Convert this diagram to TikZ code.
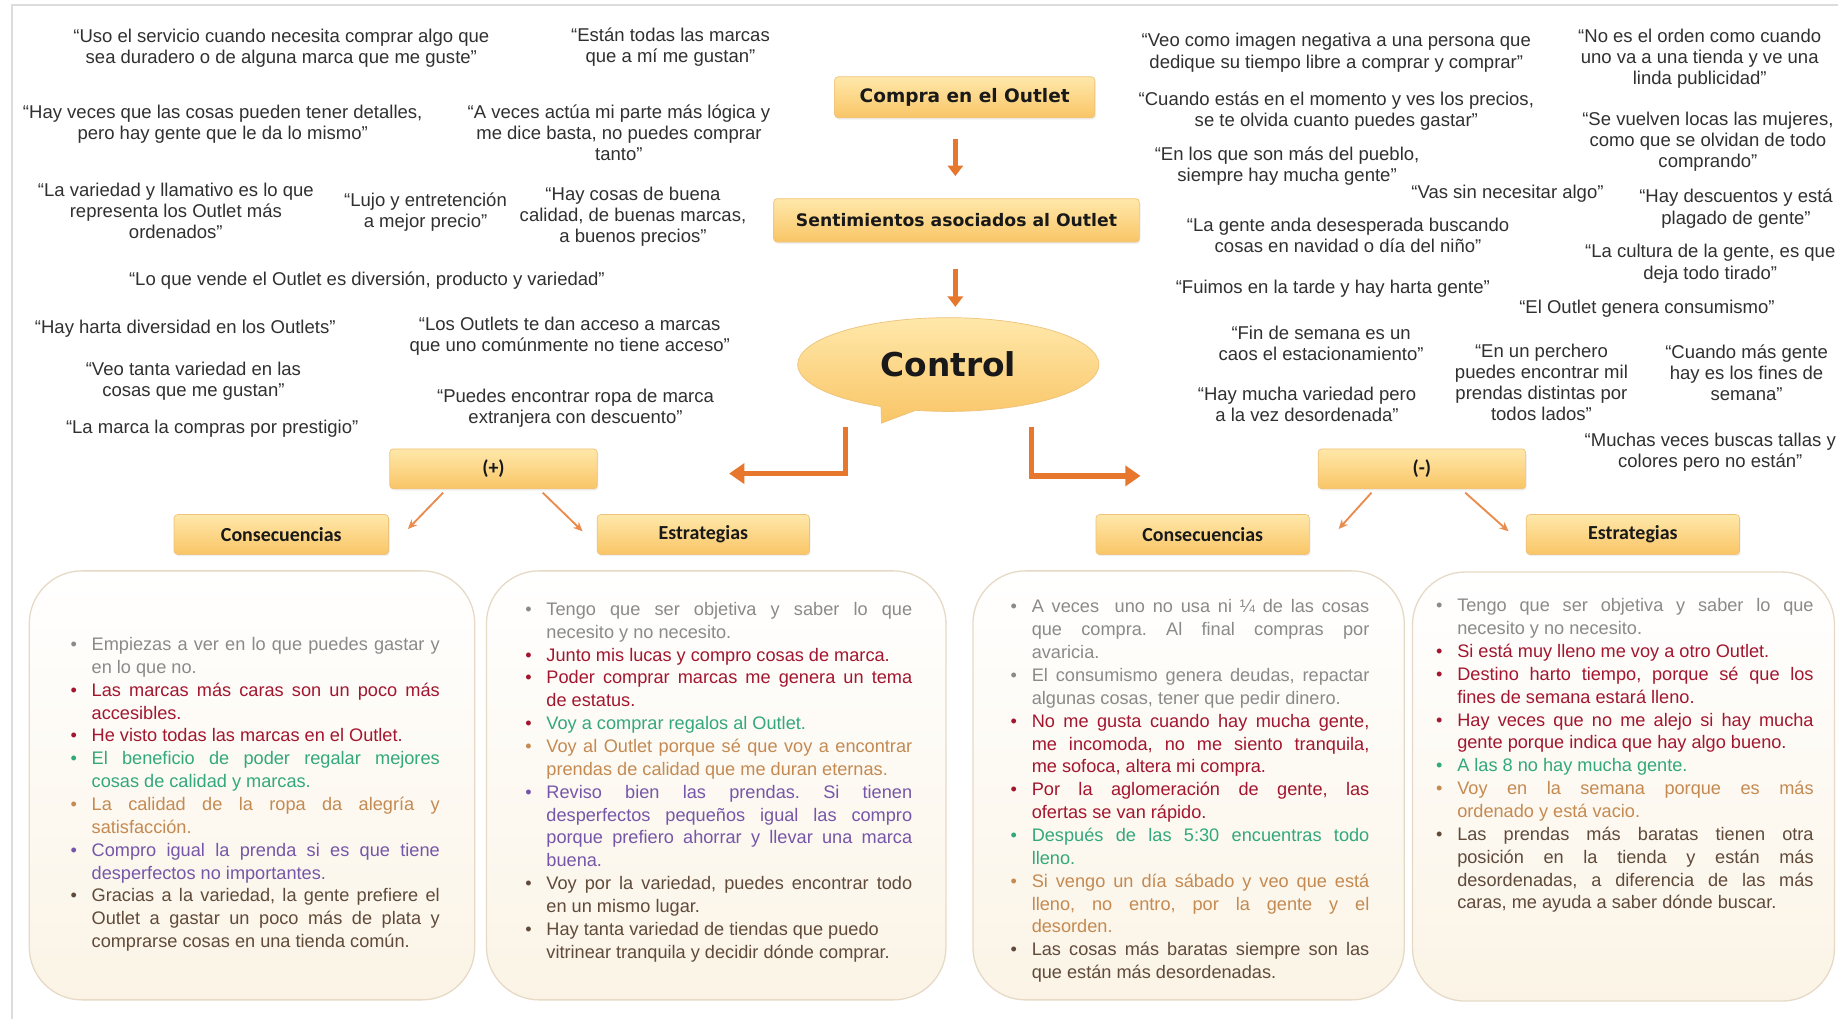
\documentclass[tikz,border=0pt]{standalone}
\usepackage{fontspec}
\setmainfont{Liberation Sans}
\newfontfamily\headfont{DejaVu Sans}
\newfontfamily\tagfont{Carlito}
\usetikzlibrary{arrows.meta,shapes.callouts,shadows}

\hyphenpenalty=10000
\exhyphenpenalty=10000
\tolerance=10000
\frenchspacing

\definecolor{quotetxt}{HTML}{303030}
\definecolor{arrowor}{HTML}{E8772E}
\definecolor{thinor}{HTML}{E98C4E}
\definecolor{boxtop}{HTML}{FFE8AA}
\definecolor{boxbot}{HTML}{F9C566}
\definecolor{boxedge}{HTML}{EFC27A}
\definecolor{paneledge}{HTML}{E6DAC6}
\definecolor{panelbot}{HTML}{FBF4E6}
\definecolor{framegray}{HTML}{DCDCDC}
\definecolor{tgray}{HTML}{8A8A8A}
\definecolor{tred}{HTML}{A3162F}
\definecolor{tgreen}{HTML}{33A87C}
\definecolor{torange}{HTML}{C48A52}
\definecolor{tpurple}{HTML}{7656A8}
\definecolor{tbrown}{HTML}{604A3A}

% one justified bullet paragraph: bullet colour, text colour, text
\newcommand\Bpara[3]{{\leftskip=18pt\rightskip=0pt\spaceskip=0pt\xspaceskip=0pt
  \parfillskip=0pt plus 1fil\frenchspacing\noindent
  \llap{\makebox[18pt][l]{\textcolor{#1}{\textbullet}}}\textcolor{#2}{#3}\par}}

\tikzset{
  quote/.style={align=center, text=quotetxt, inner sep=0pt,
    font=\fontsize{15.8}{18}\selectfont},
  headbox/.style={rounded corners=3pt, top color=boxtop, bottom color=boxbot,
    draw=boxedge, line width=0.6pt, text=black!90,
    drop shadow={shadow xshift=1pt, shadow yshift=-1.5pt, opacity=0.12}},
  tagbox/.style={headbox, minimum height=34pt,
    font=\tagfont\bfseries\fontsize{17}{20}\selectfont},
  panel/.style={draw=paneledge, line width=1.1pt, rounded corners=45pt,
    top color=white, middle color=white, bottom color=panelbot, minimum height=366pt},
  bullets/.style={anchor=north west, inner sep=0pt, align=justify,
    font=\fontsize{15.5}{19.5}\selectfont},
  bigarrow/.style={draw=arrowor, line width=4.5pt,
    -{Triangle[length=13pt,width=17pt]}},
  downarrow/.style={draw=arrowor, line width=4pt,
    -{Triangle[length=9pt,width=13pt]}},
  thinarrow/.style={draw=thinor, line width=1.6pt,
    -{Stealth[length=8pt,width=7pt]}},
}

\begin{document}
\begin{tikzpicture}[x=1pt,y=-1pt]
\useasboundingbox (0,0) rectangle (1568,869);
\fill[white] (0,0) rectangle (1568,869);
\draw[framegray, line width=2pt] (10,869) |- (1568,4);

% ---------- positive quotes ----------
\node[quote] (q1) at (240,41) {“Uso el servicio cuando necesita comprar algo que\\sea duradero o de alguna marca que me guste”};
\node[quote] (q2) at (572,40) {“Están todas las marcas\\que a mí me gustan”};
\node[quote] (q3) at (190,106) {“Hay veces que las cosas pueden tener detalles,\\pero hay gente que le da lo mismo”};
\node[quote] (q4) at (528,113) {“A veces actúa mi parte más lógica y\\me dice basta, no puedes comprar\\tanto”};
\node[quote] (q5) at (150,180) {“La variedad y llamativo es lo que\\representa los Outlet más\\ordenados”};
\node[quote] (q6) at (363,181) {“Lujo y entretención\\a mejor precio”};
\node[quote] (q7) at (540,185) {“Hay cosas de buena\\calidad, de buenas marcas,\\a buenos precios”};
\node[quote] (q8) at (313,239) {“Lo que vende el Outlet es diversión, producto y variedad”};
\node[quote] (q9) at (158,280) {“Hay harta diversidad en los Outlets”};
\node[quote] (q10) at (486,287) {“Los Outlets te dan acceso a marcas\\que uno comúnmente no tiene acceso”};
\node[quote] (q11) at (165,325) {“Veo tanta variedad en las\\cosas que me gustan”};
\node[quote] (q12) at (491,348) {“Puedes encontrar ropa de marca\\extranjera con descuento”};
\node[quote] (q13) at (181,366) {“La marca la compras por prestigio”};

% ---------- negative quotes ----------
\node[quote] (q14) at (1140,45) {“Veo como imagen negativa a una persona que\\dedique su tiempo libre a comprar y comprar”};
\node[quote] (q15) at (1450,50) {“No es el orden como cuando\\uno va a una tienda y ve una\\linda publicidad”};
\node[quote] (q16) at (1140,95) {“Cuando estás en el momento y ves los precios,\\se te olvida cuanto puedes gastar”};
\node[quote] (q17) at (1457,121) {“Se vuelven locas las mujeres,\\como que se olvidan de todo\\comprando”};
\node[quote] (q18) at (1098,142) {“En los que son más del pueblo,\\siempre hay mucha gente”};
\node[quote] (q19) at (1286,165) {“Vas sin necesitar algo”};
\node[quote] (q20) at (1481,178) {“Hay descuentos y está\\plagado de gente”};
\node[quote] (q21) at (1150,201) {“La gente anda desesperada buscando\\cosas en navidad o día del niño”};
\node[quote] (q22) at (1459,225) {“La cultura de la gente, es que\\deja todo tirado”};
\node[quote] (q23) at (1137,246) {“Fuimos en la tarde y hay harta gente”};
\node[quote] (q24) at (1405,263) {“El Outlet genera consumismo”};
\node[quote] (q25) at (1127,293) {“Fin de semana es un\\caos el estacionamiento”};
\node[quote] (q26) at (1315,326) {“En un perchero\\puedes encontrar mil\\prendas distintas por\\todos lados”};
\node[quote] (q27) at (1490,318) {“Cuando más gente\\hay es los fines de\\semana”};
\node[quote] (q28) at (1115,345) {“Hay mucha variedad pero\\a la vez desordenada”};
\node[quote] (q29) at (1459,386) {“Muchas veces buscas tallas y\\colores pero no están”};

% ---------- central flow ----------
\node[headbox, minimum width=222pt, minimum height=35pt,
  font=\headfont\bfseries\fontsize{15.8}{18}\selectfont] (cmp) at (823,83) {Compra en el Outlet};
\node[headbox, minimum width=312pt, minimum height=37pt,
  font=\headfont\bfseries\fontsize{14.7}{18}\selectfont] (sent) at (816,188) {Sentimientos asociados al Outlet};
\node[ellipse callout, callout absolute pointer={(752,361)}, callout pointer arc=14,
  minimum width=257pt, minimum height=80pt, top color=boxtop, bottom color=boxbot,
  draw=boxedge, line width=0.6pt, text=black!90,
  font=\headfont\bfseries\fontsize{28}{32}\selectfont] (ctl) at (809,311) {Control};

\draw[downarrow] ([xshift=-8pt,yshift=-18pt]cmp.south) -- ([xshift=-1pt,yshift=19pt]sent.north);
\draw[downarrow] ([xshift=-1pt,yshift=-23pt]sent.south) -- ([xshift=-1pt,yshift=-55pt]sent.south);

\coordinate (lstart) at (721,364);
\coordinate (lend) at (622,404);
\coordinate (rstart) at (880,364);
\coordinate (rend) at (973,406);
\draw[bigarrow] (lstart) |- (lend);
\draw[bigarrow] (rstart) |- (rend);

% ---------- branches ----------
\node[tagbox, minimum width=177pt] (plus) at (421,400) {(+)};
\node[tagbox, minimum width=177pt] (minus) at (1213,400) {(-)};
\node[tagbox, minimum width=183pt] (cons1) at (240,456) {Consecuencias};
\node[tagbox, minimum width=181pt] (estr1) at (600,456) {Estrategias};
\node[tagbox, minimum width=182pt] (cons2) at (1026,456) {Consecuencias};
\node[tagbox, minimum width=182pt] (estr2) at (1393,456) {Estrategias};

\draw[thinarrow] ([xshift=-43pt,yshift=-3pt]plus.south) -- ([xshift=-73pt,yshift=-34pt]plus.south);
\draw[thinarrow] ([xshift=42pt,yshift=-3pt]plus.south) -- ([xshift=76pt,yshift=-36pt]plus.south);
\draw[thinarrow] ([xshift=-43pt,yshift=-3pt]minus.south) -- ([xshift=-71pt,yshift=-34pt]minus.south);
\draw[thinarrow] ([xshift=37pt,yshift=-3pt]minus.south) -- ([xshift=74pt,yshift=-36pt]minus.south);

% ---------- panels ----------
\node[panel, minimum width=380pt] (p1) at (215,670) {};
\node[panel, minimum width=392pt] (p2) at (611,670) {};
\node[panel, minimum width=368pt] (p3) at (1014,670) {};
\node[panel, minimum width=360pt] (p4) at (1385,671) {};

\node[bullets, text width=315pt] (t1) at (60,543.5) {%
\Bpara{tgray}{tgray}{Empiezas a ver en lo que puedes gastar y \linebreak en lo que no.}
\Bpara{tred}{tred}{Las marcas más caras son un poco más \linebreak accesibles.}
\Bpara{tred}{tred}{He visto todas las marcas en el Outlet.}
\Bpara{tgreen}{tgreen}{El beneficio de poder regalar mejores \linebreak cosas de calidad y marcas.}
\Bpara{torange}{torange}{La calidad de la ropa da alegría y \linebreak satisfacción.}
\Bpara{tpurple}{tpurple}{Compro igual la prenda si es que tiene \linebreak desperfectos no importantes.}
\Bpara{tbrown}{tbrown}{Gracias a la variedad, la gente prefiere el \linebreak Outlet a gastar un poco más de plata y \linebreak comprarse cosas en una tienda común.}};

\node[bullets, text width=330pt] (t2) at (448,513.5) {%
\Bpara{tgray}{tgray}{Tengo que ser objetiva y saber lo que \linebreak necesito y no necesito.}
\Bpara{tred}{tred}{Junto mis lucas y compro cosas de marca.}
\Bpara{tred}{tred}{Poder comprar marcas me genera un tema \linebreak de estatus.}
\Bpara{tred}{tgreen}{Voy a comprar regalos al Outlet.}
\Bpara{torange}{torange}{Voy al Outlet porque sé que voy a encontrar \linebreak prendas de calidad que me duran eternas.}
\Bpara{tpurple}{tpurple}{Reviso bien las prendas. Si tienen \linebreak desperfectos pequeños igual las compro \linebreak porque prefiero ahorrar y llevar una marca \linebreak buena.}
\Bpara{tbrown}{tbrown}{Voy por la variedad, puedes encontrar todo \linebreak en un mismo lugar.}
\Bpara{tbrown}{tbrown}{Hay tanta variedad de tiendas que puedo \newline vitrinear tranquila y decidir dónde comprar.}};

\node[bullets, text width=306pt] (t3) at (862,511.5) {%
\Bpara{tgray}{tgray}{A veces\ \ uno no usa ni ¼ de las cosas \linebreak que compra. Al final compras por \linebreak avaricia.}
\Bpara{tgray}{tgray}{El consumismo genera deudas, repactar \linebreak algunas cosas, tener que pedir dinero.}
\Bpara{tred}{tred}{No me gusta cuando hay mucha gente, \linebreak me incomoda, no me siento tranquila, \linebreak me sofoca, altera mi compra.}
\Bpara{tred}{tred}{Por la aglomeración de gente, las \linebreak ofertas se van rápido.}
\Bpara{tgreen}{tgreen}{Después de las 5:30 encuentras todo \linebreak lleno.}
\Bpara{torange}{torange}{Si vengo un día sábado y veo que está \linebreak lleno, no entro, por la gente y el \linebreak desorden.}
\Bpara{tbrown}{tbrown}{Las cosas más baratas siempre son las \linebreak que están más desordenadas.}};

\node[bullets, text width=322pt] (t4) at (1225,510.5) {%
\Bpara{tgray}{tgray}{Tengo que ser objetiva y saber lo que \linebreak necesito y no necesito.}
\Bpara{tred}{tred}{Si está muy lleno me voy a otro Outlet.}
\Bpara{tred}{tred}{Destino harto tiempo, porque sé que los \linebreak fines de semana estará lleno.}
\Bpara{tred}{tred}{Hay veces que no me alejo si hay mucha \linebreak gente porque indica que hay algo bueno.}
\Bpara{tgreen}{tgreen}{A las 8 no hay mucha gente.}
\Bpara{torange}{torange}{Voy en la semana porque es más \linebreak ordenado y está vacio.}
\Bpara{tbrown}{tbrown}{Las prendas más baratas tienen otra \linebreak posición en la tienda y están más \linebreak desordenadas, a diferencia de las más \linebreak caras, me ayuda a saber dónde buscar.}};

\end{tikzpicture}
\end{document}
